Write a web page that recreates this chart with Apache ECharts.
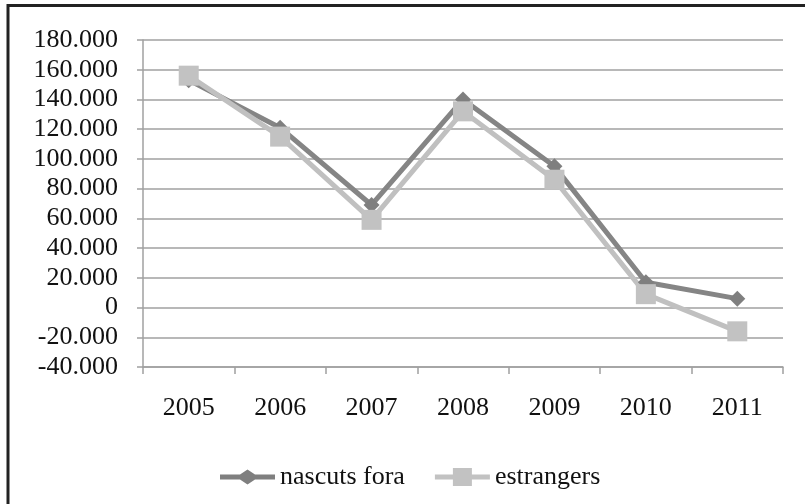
<!DOCTYPE html>
<html>
<head>
<meta charset="utf-8">
<script src="https://cdn.jsdelivr.net/npm/echarts@6/dist/echarts.min.js"></script>
<style>html,body{margin:0;padding:0;background:#fff;}#c{width:805px;height:504px;}</style>
</head>
<body>
<div id="c"></div>
<script>
const categories = ['2005','2006','2007','2008','2009','2010','2011'];
const nascutsFora = [153, 121, 69, 140, 95, 17, 6];
const estrangers = [156, 115, 59, 132, 86, 9, -16];
const seriesNames = ['nascuts fora', 'estrangers'];

const fontFam = '"Liberation Serif", "Times New Roman", serif';
// legend icons: thick line with marker in the middle (55 x 18 box)
const diamondIcon = 'path://M0,0L0.01,0L0.01,0.01ZM0,18L0.01,18L0.01,17.99ZM0,6.5L20,6.5L27.5,1.5L35,6.5L55,6.5L55,11.5L35,11.5L27.5,16.5L20,11.5L0,11.5Z';
const squareIcon = 'path://M0,6.5L18,6.5L18,0L37,0L37,6.5L55,6.5L55,11.5L37,11.5L37,18L18,18L18,11.5L0,11.5Z';

const chart = echarts.init(document.getElementById('c'), null, {renderer: 'canvas'});
chart.setOption({
  animation: false,
  backgroundColor: '#fff',
  graphic: [{
    type: 'rect', shape: {x: 8, y: 5.5, width: 820, height: 520},
    style: {fill: 'none', stroke: '#222', lineWidth: 3}, z: 100
  }],
  grid: {left: 143, right: 22, top: 40, bottom: 137, containLabel: false},
  legend: {
    data: [
      {name: seriesNames[0], icon: diamondIcon},
      {name: seriesNames[1], icon: squareIcon}
    ],
    bottom: 9,
    left: 215,
    padding: 5,
    itemWidth: 55,
    itemHeight: 18,
    itemGap: 30,
    symbolKeepAspect: false,
    textStyle: {fontFamily: fontFam, fontSize: 26, color: '#111'}
  },
  xAxis: {
    type: 'category',
    data: categories,
    boundaryGap: true,
    axisLine: {show: true, onZero: false, lineStyle: {color: '#a0a0a0', width: 1.5}},
    axisTick: {show: true, length: 7, lineStyle: {color: '#a0a0a0', width: 1.5}},
    axisLabel: {fontFamily: fontFam, fontSize: 26, color: '#111', margin: 28},
    splitLine: {show: false}
  },
  yAxis: {
    type: 'value',
    min: -40, max: 180, interval: 20,
    axisLine: {show: true, lineStyle: {color: '#a0a0a0', width: 1.5}},
    axisTick: {show: true, length: 6, lineStyle: {color: '#a0a0a0', width: 1.5}},
    axisLabel: {
      fontFamily: fontFam, fontSize: 26, color: '#111', margin: 25,
      formatter: v => v === 0 ? '0' : (v.toFixed(0) + '.000')
    },
    splitLine: {show: true, lineStyle: {color: '#a0a0a0', width: 1.5}}
  },
  series: [
    {
      name: seriesNames[0], type: 'line', data: nascutsFora,
      symbol: 'diamond', symbolSize: 16, showAllSymbol: true,
      lineStyle: {color: '#858585', width: 5},
      itemStyle: {color: '#7f7f7f'}
    },
    {
      name: seriesNames[1], type: 'line', data: estrangers,
      symbol: 'rect', symbolSize: 20, showAllSymbol: true,
      lineStyle: {color: '#c0c0c0', width: 5},
      itemStyle: {color: '#c2c2c2'}
    }
  ]
});
</script>
</body>
</html>
